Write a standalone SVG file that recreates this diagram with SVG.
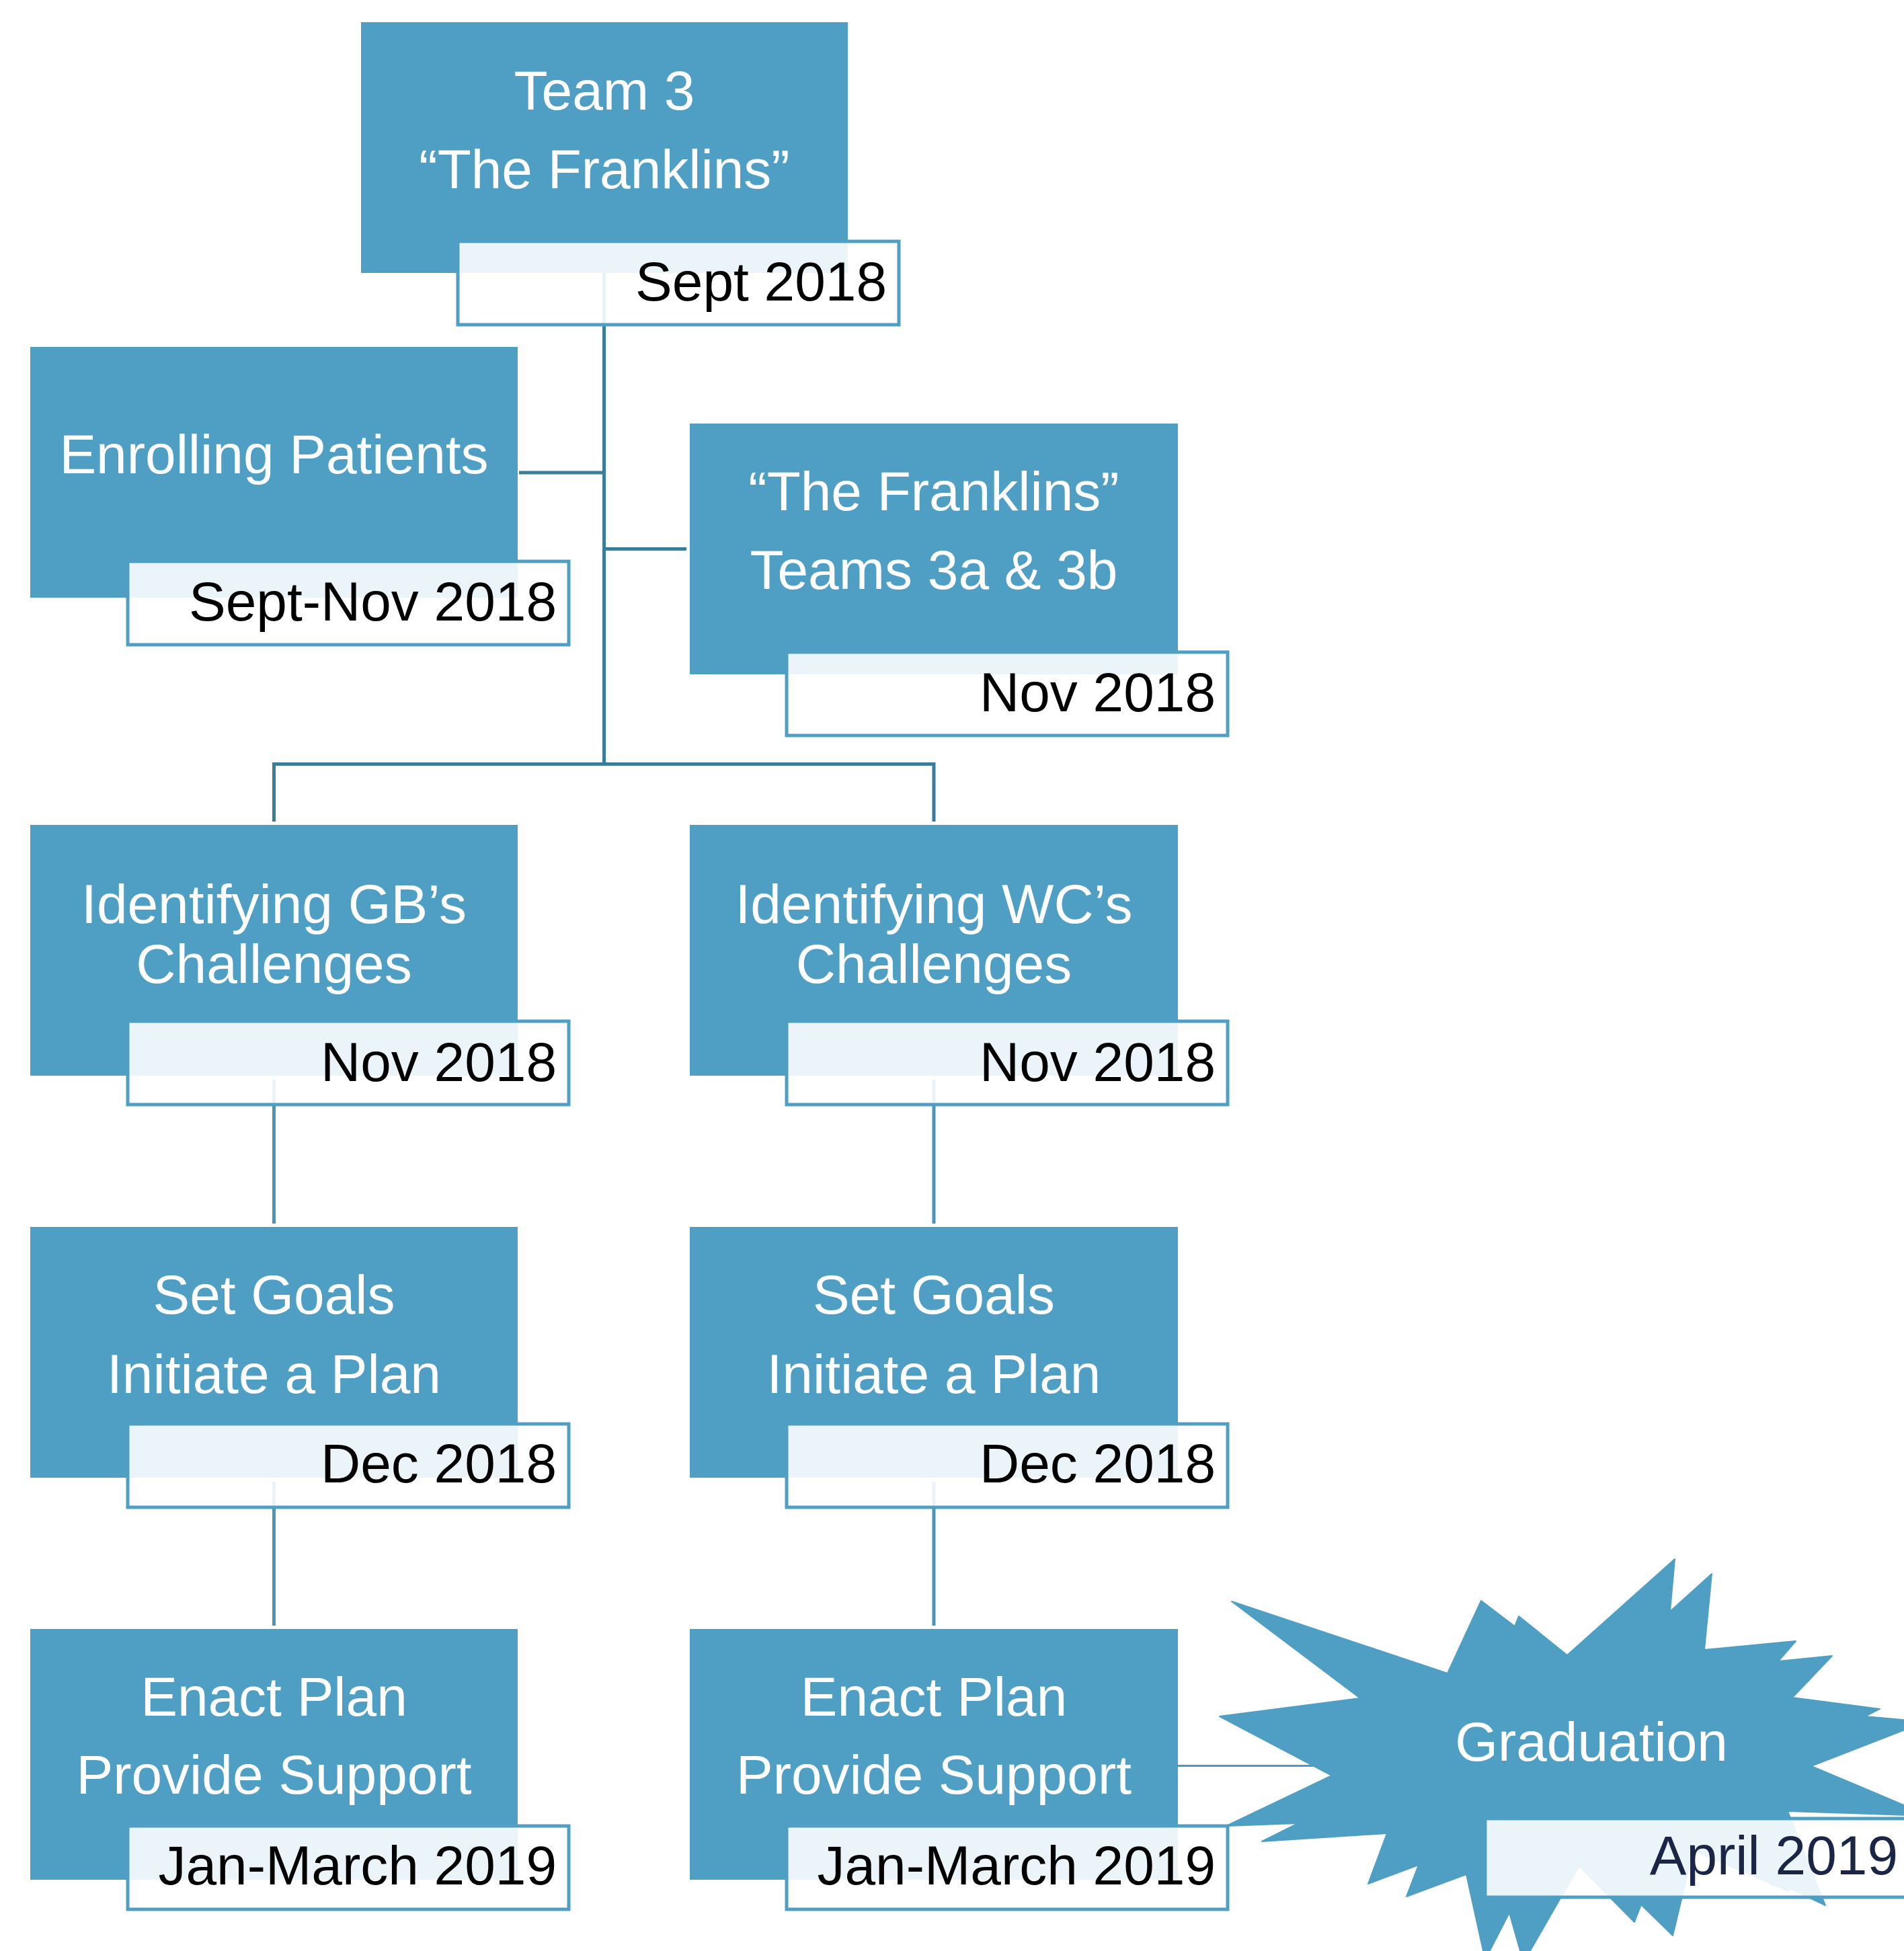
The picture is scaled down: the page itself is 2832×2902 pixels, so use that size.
<svg xmlns="http://www.w3.org/2000/svg" width="2832" height="2902" viewBox="0 0 2832 2902">
<style>
.node{fill:#4f9fc4}
.date{fill:#ffffff;fill-opacity:0.89;stroke:#4f9fc4;stroke-width:5}
.nt{font-family:"Liberation Sans",Arial,sans-serif;font-size:82px;fill:#ffffff;text-anchor:middle}
.dt{font-family:"Liberation Sans",Arial,sans-serif;font-size:82px;fill:#000000;text-anchor:end}
.trunk{stroke:#3a7d9b;stroke-width:5;fill:none}
.link{stroke:#4a96ba;stroke-width:5;fill:none}
.thin{stroke:#4a9bc0;stroke-width:3;fill:none}
</style>
<rect width="2832" height="2902" fill="#ffffff"/>
<g id="connectors">
<path class="trunk" d="M898.5 406V1139M772 703H898.5M898.5 816.5H1021M405 1136.5H1391.5M407.5 1136.5V1222M1389 1136.5V1222"/>
<path class="link" d="M407.5 1606V1820M1389 1606V1820M407.5 2204V2418M1389 2204V2418"/>
<path class="thin" d="M1752 2626.5H1995"/>
</g>
<g id="n-team3">
<rect class="node" x="537" y="33" width="724" height="373"/>
<rect class="date" x="681" y="359" width="656" height="124"/>
<text class="nt" x="899" y="163">Team 3</text>
<text class="nt" x="899" y="280">“The Franklins”</text>
<text class="dt" x="1319" y="447">Sept 2018</text>
</g>
<g id="n-enrolling">
<rect class="node" x="45" y="516" width="725" height="373"/>
<rect class="date" x="190" y="835" width="656" height="124"/>
<text class="nt" x="407.5" y="704">Enrolling Patients</text>
<text class="dt" x="828" y="923">Sept-Nov 2018</text>
</g>
<g id="n-franklins">
<rect class="node" x="1026" y="630" width="726" height="373"/>
<rect class="date" x="1170" y="970" width="656" height="124"/>
<text class="nt" x="1389" y="759">“The Franklins”</text>
<text class="nt" x="1389" y="876">Teams 3a &amp; 3b</text>
<text class="dt" x="1808" y="1058">Nov 2018</text>
</g>
<g id="n-gb">
<rect class="node" x="45" y="1227" width="725" height="373"/>
<rect class="date" x="190" y="1519" width="656" height="124"/>
<text class="nt" x="407.5" y="1373">Identifying GB’s</text>
<text class="nt" x="407.5" y="1462">Challenges</text>
<text class="dt" x="828" y="1608">Nov 2018</text>
</g>
<g id="n-wc">
<rect class="node" x="1026" y="1227" width="726" height="373"/>
<rect class="date" x="1170" y="1519" width="656" height="124"/>
<text class="nt" x="1389" y="1373">Identifying WC’s</text>
<text class="nt" x="1389" y="1462">Challenges</text>
<text class="dt" x="1808" y="1608">Nov 2018</text>
</g>
<g id="n-goals-gb">
<rect class="node" x="45" y="1825" width="725" height="373"/>
<rect class="date" x="190" y="2118" width="656" height="124"/>
<text class="nt" x="407.5" y="1954">Set Goals</text>
<text class="nt" x="407.5" y="2072">Initiate a Plan</text>
<text class="dt" x="828" y="2205">Dec 2018</text>
</g>
<g id="n-goals-wc">
<rect class="node" x="1026" y="1825" width="726" height="373"/>
<rect class="date" x="1170" y="2118" width="656" height="124"/>
<text class="nt" x="1389" y="1954">Set Goals</text>
<text class="nt" x="1389" y="2072">Initiate a Plan</text>
<text class="dt" x="1808" y="2205">Dec 2018</text>
</g>
<g id="n-enact-gb">
<rect class="node" x="45" y="2423" width="725" height="373"/>
<rect class="date" x="190" y="2716" width="656" height="124"/>
<text class="nt" x="407.5" y="2552">Enact Plan</text>
<text class="nt" x="407.5" y="2668">Provide Support</text>
<text class="dt" x="828" y="2803">Jan-March 2019</text>
</g>
<g id="n-enact-wc">
<rect class="node" x="1026" y="2423" width="726" height="373"/>
<rect class="date" x="1170" y="2716" width="656" height="124"/>
<text class="nt" x="1389" y="2552">Enact Plan</text>
<text class="nt" x="1389" y="2668">Provide Support</text>
<text class="dt" x="1808" y="2803">Jan-March 2019</text>
</g>
<g id="n-graduation">
<polygon fill="#4f9fc4" stroke="#4f9fc4" stroke-width="2" stroke-linejoin="round" points="1832,2382 2153,2489 2203,2381 2253,2419 2259,2404 2331,2462 2491,2319 2484,2397 2546,2341 2535,2454 2671,2441 2645,2471 2725,2463 2666,2525 2796,2542 2774,2553 2864,2561 2694,2627 2870,2701 2659,2694 2715,2834 2660,2808 2660,2813 2518,2752 2501,2825 2488,2879 2441,2833 2431,2859 2349,2776 2320,2825 2266,2919 2245,2845 2209,2915 2181,2788 2092,2821 2110,2774 2035,2802 2063,2727 1877,2739 1931,2712 1824,2716 1981,2641 1814,2553 2023,2526"/>
<rect class="date" x="2209" y="2705" width="640" height="117"/>
<text class="nt" x="2367" y="2619">Graduation</text>
<text class="dt" x="2823" y="2788" style="fill:#1b2545">April 2019</text>
</g>
</svg>
